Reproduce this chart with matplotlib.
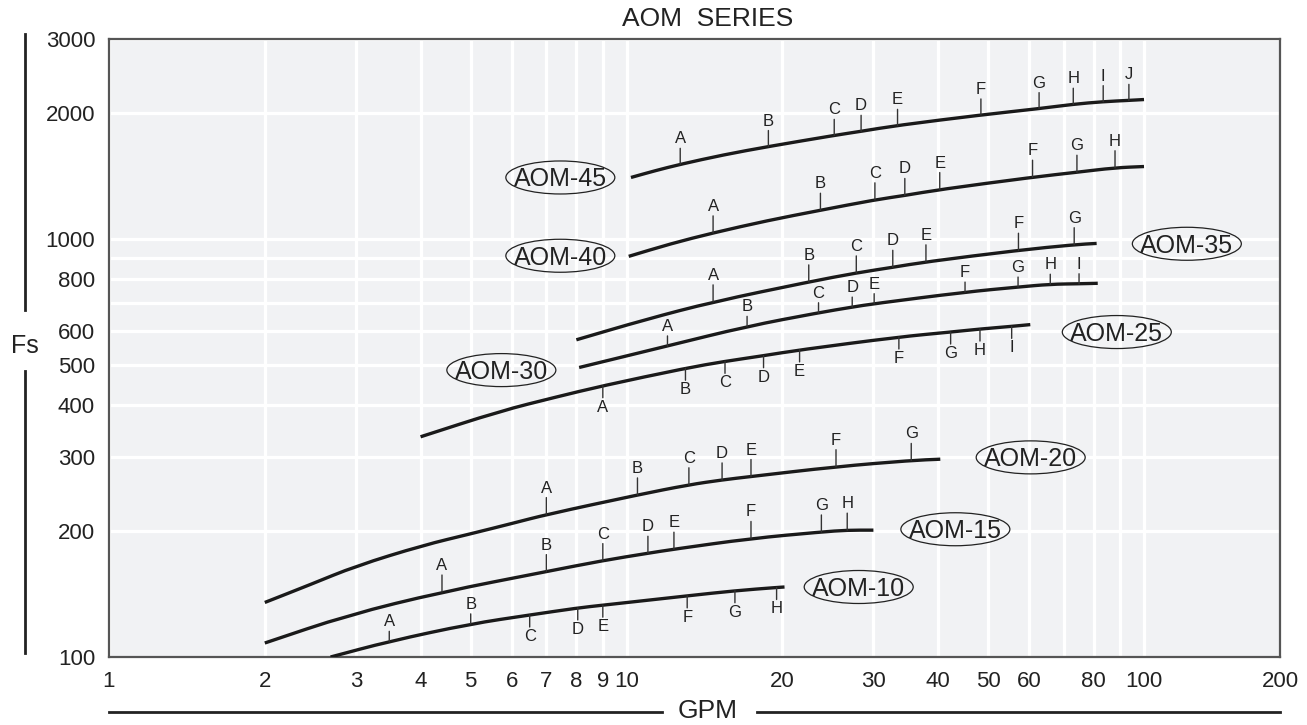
import numpy as np
import matplotlib
matplotlib.use('Agg')
import matplotlib.pyplot as plt
from matplotlib.patches import Ellipse, PathPatch
from matplotlib.path import Path
from matplotlib.lines import Line2D
from matplotlib.transforms import ScaledTranslation
from matplotlib.ticker import FixedLocator, NullFormatter

plt.rcParams['font.family'] = ['Liberation Sans', 'DejaVu Sans']

# curve points (GPM, Fs); '' = plain curve point, letter = size mark
gpm_45 = [10.2, 11.35, 12.7, 15.4, 18.8, 25.2, 28.4, 33.4, 48.4, 62.7, 73.0, 83.4, 93.5, 100]
fs_45 = [1400, 1453, 1505, 1586, 1660, 1765, 1805, 1865, 1975, 2045, 2095, 2125, 2140, 2150]
marks_45 = ['', '', 'A', '', 'B', 'C', 'D', 'E', 'F', 'G', 'H', 'I', 'J', '']

gpm_40 = [10.1, 12.2, 14.7, 18.7, 23.7, 30.2, 34.5, 40.3, 60.9, 74.2, 87.9, 100]
fs_40 = [907, 973, 1032, 1104, 1169, 1238, 1268, 1310, 1402, 1441, 1477, 1487]
marks_40 = ['', '', 'A', '', 'B', 'C', 'D', 'E', 'F', 'G', 'H', '']

gpm_35 = [8.0, 10.9, 14.7, 22.5, 27.8, 32.7, 37.9, 57.2, 73.3, 81.0]
fs_35 = [573, 641, 706, 788, 828, 854, 880, 938, 967, 974]
marks_35 = ['', '', 'A', 'B', 'C', 'D', 'E', 'F', 'G', '']

gpm_30 = [8.1, 12.0, 17.1, 23.5, 27.3, 30.1, 45.1, 57.1, 65.9, 74.9, 81.4]
fs_30 = [492, 554, 617, 665, 686, 699, 745, 766, 778, 780, 782]
marks_30 = ['', 'A', 'B', 'C', 'D', 'E', 'F', 'G', 'H', 'I', '']

gpm_25 = [4.0, 5.7, 7.3, 9.0, 13.0, 15.5, 18.4, 21.6, 33.6, 42.3, 48.2, 55.5, 60.3]
fs_25 = [336, 387, 418, 445, 490, 509, 525, 542, 582, 598, 608, 617, 623]
marks_25 = ['', '', '', 'A', 'B', 'C', 'D', 'E', 'F', 'G', 'H', 'I', '']

gpm_20 = [2.0, 2.45, 3.0, 4.05, 5.0, 6.05, 7.0, 10.5, 13.2, 15.3, 17.4, 25.4, 35.5, 40.4]
fs_20 = [135, 149, 165, 185, 197, 209, 219, 244, 258, 265, 270, 285, 295, 297]
marks_20 = ['', '', '', '', '', '', 'A', 'B', 'C', 'D', 'E', 'F', 'G', '']

gpm_15 = [2.0, 2.9, 4.4, 7.0, 9.0, 11.0, 12.35, 17.4, 23.8, 26.7, 30.0]
fs_15 = [108, 126, 143, 160, 170, 177, 181, 192, 199, 201, 201]
marks_15 = ['', '', 'A', 'B', 'C', 'D', 'E', 'F', 'G', 'H', '']

gpm_10 = [2.68, 3.48, 5.0, 6.5, 8.05, 9.0, 13.1, 16.2, 19.5, 20.2]
fs_10 = [100, 109, 120, 126, 131, 133, 140, 144, 146.6, 147]
marks_10 = ['', 'A', 'B', 'C', 'D', 'E', 'F', 'G', 'H', '']

x_ticks = [1, 2, 3, 4, 5, 6, 7, 8, 9, 10, 20, 30, 40, 50, 60, 80, 100]
x_labels = ['1', '2', '3', '4', '5', '6', '7', '8', '9', '10', '20', '30', '40', '50', '60', '80', '100']
y_ticks = [100, 200, 300, 400, 500, 600, 800, 1000, 2000, 3000]

series = [
    ('AOM-45', gpm_45, fs_45, marks_45),
    ('AOM-40', gpm_40, fs_40, marks_40),
    ('AOM-35', gpm_35, fs_35, marks_35),
    ('AOM-30', gpm_30, fs_30, marks_30),
    ('AOM-25', gpm_25, fs_25, marks_25),
    ('AOM-20', gpm_20, fs_20, marks_20),
    ('AOM-15', gpm_15, fs_15, marks_15),
    ('AOM-10', gpm_10, fs_10, marks_10),
]

# mark tick length (px) and direction per curve, plus single-mark exceptions
tick_style = {'AOM-45': (16, 1), 'AOM-40': (17, 1), 'AOM-35': (17, 1), 'AOM-30': (10, 1),
              'AOM-25': (12, -1), 'AOM-20': (17, 1), 'AOM-15': (17, 1), 'AOM-10': (12, -1)}
tick_override = {('AOM-10', 'A'): (10, 1), ('AOM-10', 'B'): (10, 1)}
# where the oval labels sit
label_at = {'AOM-45': (7.45, 1400), 'AOM-40': (7.45, 910), 'AOM-35': (121, 972),
            'AOM-30': (5.73, 485), 'AOM-25': (88.6, 598), 'AOM-20': (60.4, 300),
            'AOM-15': (43.2, 202), 'AOM-10': (28.1, 147)}


def smooth_path(xs, ys):
    # quadratic bezier through the midpoints (log space), points act as control points
    xs, ys = np.asarray(xs, float), np.asarray(ys, float)
    mx, my = np.sqrt(xs[:-1] * xs[1:]), np.sqrt(ys[:-1] * ys[1:])
    verts = [(xs[0], ys[0]), (mx[0], my[0])]
    codes = [Path.MOVETO, Path.LINETO]
    for i in range(1, len(xs) - 1):
        verts += [(xs[i], ys[i]), (mx[i], my[i])]
        codes += [Path.CURVE3, Path.CURVE3]
    verts.append((xs[-1], ys[-1]))
    codes.append(Path.LINETO)
    return Path(verts, codes)


W, H = 1307, 725
fig = plt.figure(figsize=(W / 100, H / 100), dpi=100)
ax = fig.add_axes([109 / W, 1 - 657 / H, (1280 - 109) / W, (657 - 39) / H])
ax.set_facecolor('#f1f2f4')
ax.set_xscale('log')
ax.set_yscale('log')
x_max = 10 ** ((1280 - 109) / 517.5)

ax.xaxis.set_major_locator(FixedLocator(x_ticks + [x_max]))
ax.set_xticklabels(x_labels + ['200'])
ax.xaxis.set_minor_locator(FixedLocator([70, 90]))
ax.xaxis.set_minor_formatter(NullFormatter())
ax.yaxis.set_major_locator(FixedLocator(y_ticks))
ax.set_yticklabels([str(v) for v in y_ticks])
ax.yaxis.set_minor_locator(FixedLocator([700, 900]))
ax.yaxis.set_minor_formatter(NullFormatter())
ax.tick_params(which='both', length=0, labelsize=16, colors='#222', pad=10)
ax.grid(True, which='both', color='white', lw=2.3)
ax.set_axisbelow(True)
for sp in ax.spines.values():
    sp.set_color('#555')
    sp.set_linewidth(1.6)

for name, gpm, fs, marks in series:
    ax.add_patch(PathPatch(smooth_path(gpm, fs), fill=False, ec='#1a1a1a', lw=2.4,
                           capstyle='butt', zorder=3))
    for x, y, m in zip(gpm, fs, marks):
        if not m:
            continue
        L, d = tick_override.get((name, m), tick_style[name])
        ax.annotate('', xy=(x, y), xytext=(0, d * L), textcoords='offset pixels',
                    arrowprops=dict(arrowstyle='-', color='#333', lw=1, shrinkA=0, shrinkB=0))
        ax.annotate(m, xy=(x, y), xytext=(0, d * (L + 2)), textcoords='offset pixels',
                    ha='center', va='bottom' if d > 0 else 'top', fontsize=12, color='#222')
    lx, ly = label_at[name]
    ax.annotate(name, xy=(lx, ly), xytext=(0, -2), textcoords='offset pixels',
                ha='center', va='center', fontsize=18, color='#222', zorder=5)
    trans = fig.dpi_scale_trans + ScaledTranslation(lx, ly, ax.transData)
    ax.add_artist(Ellipse((0, 0), 1.09, 0.33, transform=trans, fc='none', ec='#222', lw=0.9, zorder=5))

ax.set_xlim(1, x_max)
ax.set_ylim(100, 3000)


# outer axis captions with their rules
def px(x, y):
    return x / W, 1 - y / H


for (x0, y0), (x1, y1) in [((25, 34), (25, 310)), ((25, 371), (25, 653)),
                           ((109, 712), (662, 712)), ((757, 712), (1280, 712))]:
    a, b = px(x0, y0)
    c, e = px(x1, y1)
    fig.add_artist(Line2D([a, c], [b, e], color='#222', lw=2))

fig.text(*px(25, 346), 'Fs', fontsize=18, ha='center', va='center', color='#222')
fig.text(*px(708, 711), 'GPM', fontsize=19, ha='center', va='center', color='#222')
fig.text(*px(708, 19), 'AOM  SERIES', fontsize=19, ha='center', va='center', color='#222')

fig.savefig('out.png', dpi=100)
